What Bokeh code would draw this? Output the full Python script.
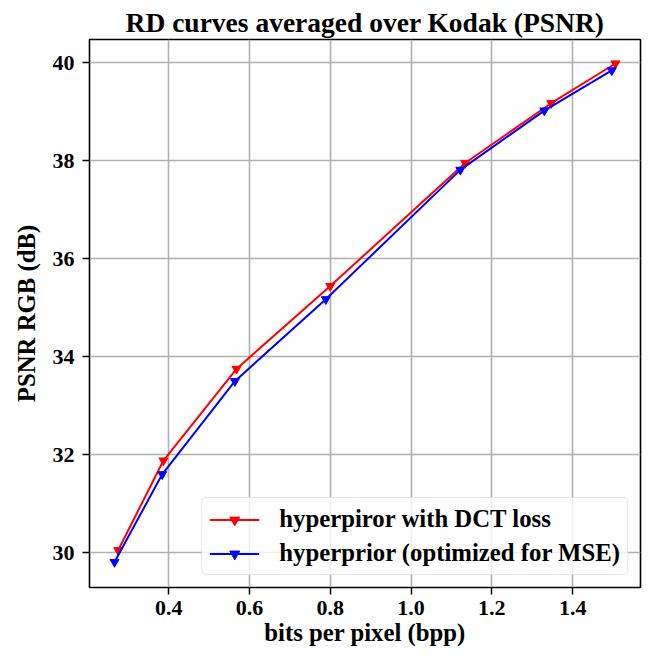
from bokeh.plotting import figure
from bokeh.embed import file_html
from bokeh.resources import INLINE
from bokeh.models import FixedTicker, PrintfTickFormatter, Range1d, Legend, LegendItem

# Data
dct_bpp = [0.275, 0.387, 0.568, 0.800, 1.134, 1.347, 1.506]
dct_psnr = [30.05, 31.88, 33.75, 35.44, 37.95, 39.17, 39.98]
mse_bpp = [0.266, 0.384, 0.564, 0.789, 1.122, 1.330, 1.497]
mse_psnr = [29.81, 31.60, 33.50, 35.17, 37.81, 39.02, 39.84]

x_ticks = [0.4, 0.6, 0.8, 1.0, 1.2, 1.4]
y_ticks = [30, 32, 34, 36, 38, 40]

FONT = "Liberation Serif"

p = figure(width=650, height=658, output_backend="svg", toolbar_location=None,
           x_range=Range1d(0.204, 1.568), y_range=Range1d(29.29, 40.47),
           min_border_left=89, min_border_right=10, min_border_top=39, min_border_bottom=71,
           title="RD curves averaged over Kodak (PSNR)")

p.title.align = "center"
p.title.text_font = FONT
p.title.text_font_size = "27.5px"
p.title.text_font_style = "bold"
p.title.text_color = "black"
p.title.standoff = 4

p.outline_line_color = "black"
p.outline_line_width = 1.6
p.outline_line_alpha = 1.0

for ax in (p.xaxis, p.yaxis):
    ax.axis_line_color = None
    ax.major_tick_line_color = "black"
    ax.major_tick_line_width = 1.5
    ax.major_tick_out = 7
    ax.major_tick_in = 0
    ax.minor_tick_line_color = None
    ax.major_label_text_font = FONT
    ax.major_label_text_font_size = "22px"
    ax.major_label_text_font_style = "bold"
    ax.major_label_text_color = "black"
    ax.axis_label_text_font = FONT
    ax.axis_label_text_font_size = "24.75px"
    ax.axis_label_text_font_style = "bold"
    ax.axis_label_text_color = "black"

p.xaxis.major_label_standoff = 6
p.yaxis.major_label_standoff = 8
p.xaxis.ticker = FixedTicker(ticks=x_ticks)
p.yaxis.ticker = FixedTicker(ticks=y_ticks)
p.xaxis.formatter = PrintfTickFormatter(format="%.1f")
p.yaxis.formatter = PrintfTickFormatter(format="%d")
p.xaxis.axis_label = "bits per pixel (bpp)"
p.yaxis.axis_label = "PSNR RGB (dB)"
p.xaxis.axis_label_standoff = 1
p.yaxis.axis_label_standoff = 10

p.grid.grid_line_color = "#b0b0b0"
p.grid.grid_line_width = 1.6
p.xgrid.ticker = FixedTicker(ticks=x_ticks)
p.ygrid.ticker = FixedTicker(ticks=y_ticks)

r1l = p.line(dct_bpp, dct_psnr, line_color="red", line_width=2)
r1m = p.scatter(dct_bpp, dct_psnr, marker="inverted_triangle", size=9,
                fill_color="red", line_color="red")
r2l = p.line(mse_bpp, mse_psnr, line_color="blue", line_width=2)
r2m = p.scatter(mse_bpp, mse_psnr, marker="inverted_triangle", size=9,
                fill_color="blue", line_color="blue")

legend = Legend(items=[
    LegendItem(label="hyperpiror with DCT loss", renderers=[r1l, r1m]),
    LegendItem(label="hyperprior (optimized for MSE)", renderers=[r2l, r2m]),
], location="bottom_right")
legend.margin = 12
legend.padding = 7
legend.spacing = 6
legend.glyph_width = 50
legend.glyph_height = 25
legend.label_height = 25
legend.label_standoff = 20
legend.label_text_font = FONT
legend.label_text_font_size = "24.75px"
legend.label_text_font_style = "bold"
legend.label_text_color = "black"
legend.border_line_color = "#cccccc"
legend.border_line_width = 1.5
legend.background_fill_alpha = 0.8
try:
    legend.border_radius = 5
except Exception:
    pass
p.add_layout(legend, "center")

open("out.html", "w").write(file_html(p, INLINE))
